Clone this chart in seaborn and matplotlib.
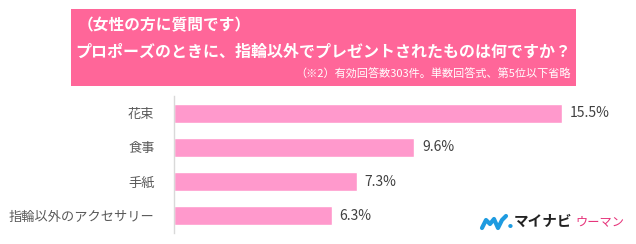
import matplotlib
matplotlib.use("Agg")
import matplotlib.pyplot as plt
import seaborn as sns
import pandas as pd
from matplotlib.patches import Rectangle

categories = ["花束", "食事", "手紙", "指輪以外のアクセサリー"]
values = [15.5, 9.6, 7.3, 6.3]
value_labels = ["15.5%", "9.6%", "7.3%", "6.3%"]
title1 = "（女性の方に質問です）"
title2 = "プロポーズのときに、指輪以外でプレゼントされたものは何ですか？"
note = "（※2）有効回答数303件。単数回答式、第5位以下省略"

sns.set_theme(style="white")
plt.rcParams['font.family'] = ['Noto Sans CJK JP', 'DejaVu Sans']

df = pd.DataFrame({"cat": categories, "val": values})

fig = plt.figure(figsize=(6.36, 2.44), dpi=100)
ax = fig.add_axes([174/636, 1-233/244, 450/636, 137/244])
sns.barplot(data=df, y="cat", x="val", orient="h", color="#FF99CC",
            saturation=1, width=0.55, ax=ax)
ax.set_xlim(0, 18)
ax.set_ylim(3.5, -0.5)
ax.set_xlabel("")
ax.set_ylabel("")
ax.set_xticks([])
for s in ["top", "right", "bottom"]:
    ax.spines[s].set_visible(False)
ax.spines["left"].set_color("#D9D9D9")
ax.spines["left"].set_linewidth(1)
ax.tick_params(axis="y", length=0, pad=14, labelsize=9.5, labelcolor="#595959")
for i, (v, lab) in enumerate(zip(values, value_labels)):
    ax.text(v + 0.33, i, lab, va="center", ha="left", fontsize=10, color="#404040")

# header
fig.patches.append(Rectangle((71/636, 1-86/244), 505/636, 77/244,
                             transform=fig.transFigure, facecolor="#FF6699",
                             edgecolor="none", zorder=0))
fig.text(78/636, 1-25/244, title1, color="white", fontsize=11.3, fontweight="bold",
         ha="left", va="center")
fig.text(75/636, 1-52/244, title2, color="white", fontsize=11.5, fontweight="bold",
         ha="left", va="center")
fig.text(571/636, 1-74/244, note, color="white", fontsize=8,
         ha="right", va="center")

# logo
lx = [482, 486, 490, 494, 498, 502, 506]
ly = [228, 220, 224, 219, 228, 220, 216]
fig.lines.append(plt.Line2D([x/636 for x in lx], [1-y/244 for y in ly],
                            transform=fig.transFigure, color="#1E9BE0", lw=3,
                            solid_capstyle="round", solid_joinstyle="round"))
fig.text(510/636, 1-226/244, "●", color="#1E9BE0", fontsize=3.5, ha="center", va="center")
fig.text(514/636, 1-221/244, "マイナビ", color="#222222", fontsize=10.5,
         fontweight="bold", ha="left", va="center")
fig.text(575/636, 1-222/244, "ウーマン", color="#E6337A", fontsize=8.8,
         ha="left", va="center")

fig.savefig("out.png", dpi=100)
